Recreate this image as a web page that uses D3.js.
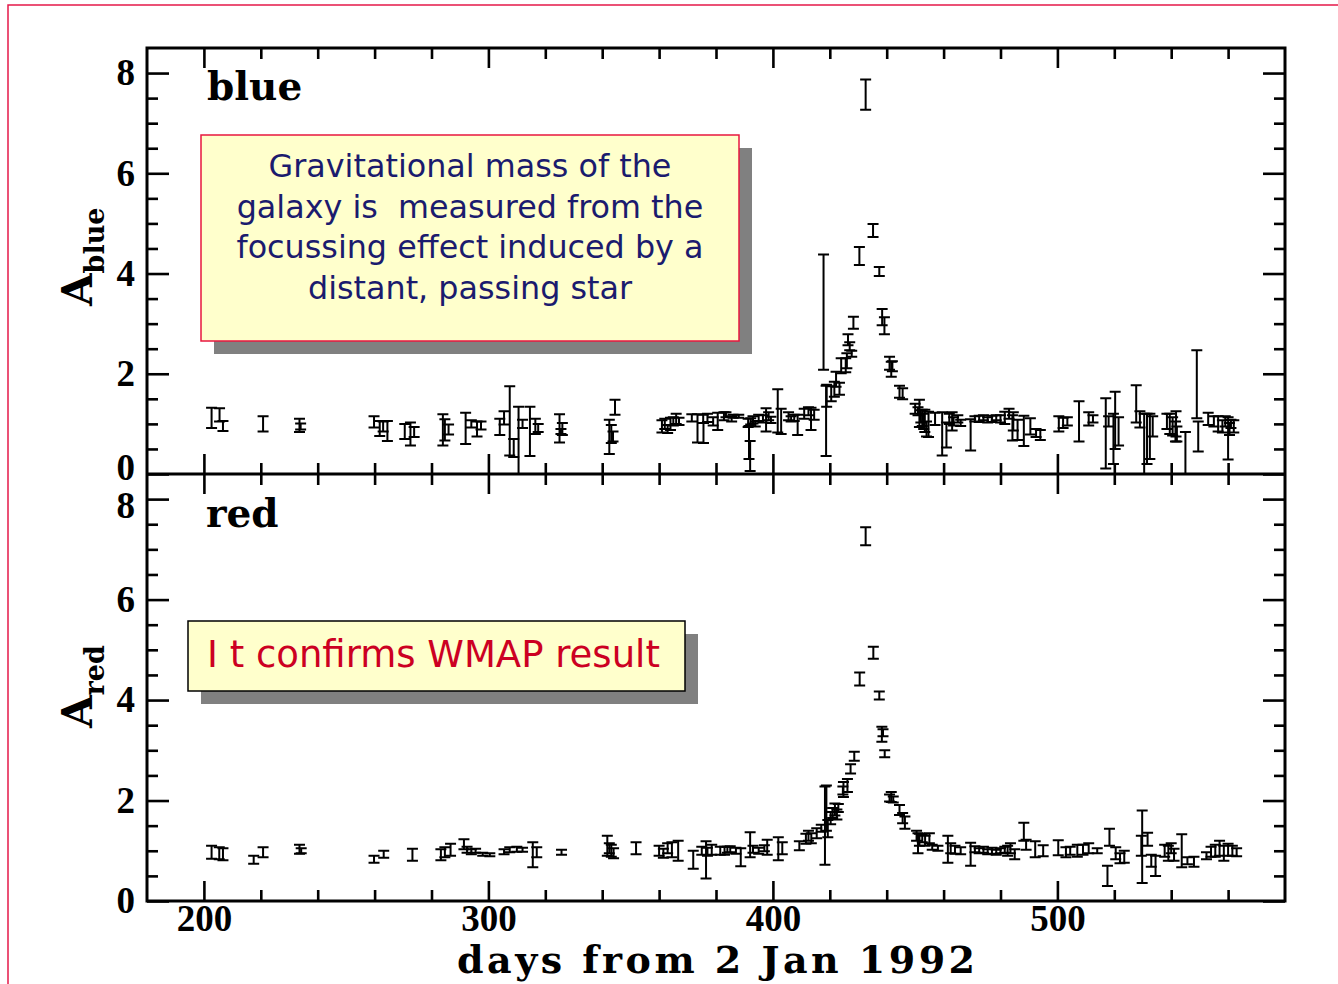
<!DOCTYPE html>
<html>
<head>
<meta charset="utf-8">
<script src="https://cdn.jsdelivr.net/npm/d3@7"></script>
<style>
  html, body { margin: 0; padding: 0; background: #fff; }
  svg { display: block; }
</style>
</head>
<body>
<svg id="chart" width="1338" height="984"></svg>
<script>
// Light curve of the event: amplification vs. days from 2 Jan 1992

// Blue band measurements
const blueDays = [202.7,205.5,206.7,220.8,233.6,234,259.8,261.8,263,264.5,270.6,272.6,273.9,284,284.7,286,292,294,296,297.4,
  304,305.5,307.5,308.9,310.6,312,314.6,316.5,317.5,325,325.5,326,342.5,343.2,343.8,344.5,361,362,363,364,365,366,367,
  371.5,373.5,375.5,375.6,377,379,380.6,382.8,383.5,385.5,386,388,391.3,391.6,392,392.2,393,393.8,395,396.5,397.6,398.5,399.3,
  401.7,402.9,405.5,406.4,407.5,408.7,411,412.5,413.4,414.5,417.8,418.7,418.9,420.5,421.6,422.2,423.4,424,425.6,426,426.4,427,427.7,428.3,
  430.4,432.6,435.2,437.4,438.4,439.2,441,441.6,442,444.5,445.6,450,451,451.5,452,452.5,453,453.4,454,454.7,457,459.5,
  461,462,463,463.5,465,466,469.5,471,472.5,474,475.5,477,478.5,480,481.5,483,484.2,484.5,486,488.2,490.5,492.5,494,
  500.5,502,503.5,507.6,511,512.5,517,518,519.7,520.3,521.5,527.7,529,530.5,531.5,532.5,533.5,538.5,539.5,540.5,541.5,541.7,542,
  545,549,549.5,553,555,556.5,558,559,560,560.5,561,562];
const blueAmp = [1.12,1.18,0.96,1.0,0.97,0.95,1.04,0.91,0.95,0.86,0.85,0.8,0.84,0.88,0.88,0.89,0.91,1.0,0.9,0.97,
  0.94,1.12,1.06,0.52,0.67,1.0,0.85,0.95,0.92,0.91,0.85,0.9,0.74,0.8,0.75,1.33,0.95,1.0,0.9,1.0,1.05,1.1,1.05,
  1.12,0.91,1.1,0.82,1.12,1.05,1.05,1.15,1.18,1.1,1.15,1.15,1.02,0.63,0.36,1.05,1.08,1.0,1.12,1.1,1.08,1.15,1.08,
  1.26,1.05,1.15,1.1,1.12,0.98,1.2,1.25,1.1,1.18,3.23,1.06,1.56,1.6,1.69,1.89,1.7,2.16,2.17,2.26,2.68,2.55,2.4,3.02,
  4.35,7.57,4.86,4.04,3.13,2.96,2.21,2.09,2.15,1.64,1.6,1.3,1.25,1.21,1.15,1.12,1.05,1.06,0.9,0.99,1.1,0.8,
  0.78,1.1,1.05,1.05,1.1,1.02,0.78,1.1,1.1,1.12,1.08,1.1,1.12,1.1,1.12,1.2,0.92,1.05,0.88,0.86,0.95,0.82,0.78,
  1.0,1.02,1.05,1.05,1.1,1.1,0.81,1.05,0.7,1.07,0.85,1.4,1.09,0.6,0.7,0.75,0.95,1.05,1.0,0.95,0.85,1.0,0.8,
  0.42,1.79,0.75,1.1,1.05,1.0,0.95,1.05,0.71,0.9,1.0,0.95];
const blueErr = [0.2,0.13,0.1,0.15,0.13,0.06,0.11,0.15,0.1,0.2,0.15,0.23,0.1,0.31,0.21,0.1,0.31,0.07,0.15,0.08,
  0.16,0.13,0.69,0.18,0.67,0.08,0.49,0.15,0.08,0.28,0.05,0.12,0.34,0.18,0.1,0.15,0.12,0.1,0.08,0.12,0.08,0.1,0.07,
  0.07,0.28,0.08,0.2,0.08,0.08,0.17,0.08,0.05,0.05,0.03,0.03,0.08,0.33,0.3,0.06,0.07,0.05,0.06,0.07,0.23,0.08,0.06,
  0.43,0.25,0.08,0.05,0.06,0.2,0.1,0.08,0.22,0.1,1.15,0.7,0.22,0.15,0.15,0.15,0.12,0.15,0.14,0.15,0.11,0.08,0.06,0.12,
  0.18,0.3,0.13,0.09,0.16,0.17,0.13,0.15,0.1,0.12,0.11,0.1,0.08,0.27,0.12,0.16,0.15,0.22,0.15,0.25,0.12,0.43,
  0.25,0.1,0.18,0.08,0.07,0.06,0.31,0.05,0.06,0.05,0.05,0.06,0.05,0.07,0.12,0.1,0.25,0.18,0.2,0.3,0.16,0.08,0.1,
  0.15,0.1,0.08,0.4,0.13,0.07,0.7,0.1,0.5,0.57,0.28,0.37,0.16,0.6,0.5,0.45,0.2,0.15,0.2,0.18,0.2,0.25,0.15,
  0.42,0.68,0.3,0.12,0.1,0.15,0.12,0.1,0.42,0.12,0.08,0.12];

// Red band measurements
const redDays = [202.7,205.4,206.7,217.5,220.8,233.6,234.2,259.8,263.2,273.3,283.3,284.7,286.7,291.4,292.5,294,295.5,298,300.5,
  305.5,307.5,310,312,315.6,317,325.7,341.8,342.5,343.2,344,351.9,360,361.5,363,364.5,366.7,372,375,376.5,377,378.5,
  381.5,383,384,385,387,388.7,392,393,395,397,398,401.9,403.3,409.3,411.6,412.5,413.5,415.4,417,418.3,418.8,419.3,
  420.3,421,421.8,422.5,423,424.6,424.8,426.2,427.3,428.6,430.5,432.6,435.3,437.4,438.3,438.7,439.3,441,441.6,442.3,
  444.5,445.6,446.4,450.5,451,451.5,452.5,453.5,455,456,458,461.5,462.5,464,466,469.5,471,472.5,474,475.5,477,478.5,
  480,481.5,482.5,483.5,485,488.2,489,492.2,495,500.3,503,504.5,507,509,511,514,517.6,518.3,520.5,522,523.5,
  529.5,529.8,531.7,533,534.5,537.7,539,540,541,543.7,545.7,548,552.4,554,555.5,557,558.5,560,561.5,563];
const redAmp = [0.97,0.95,0.93,0.82,0.97,1.03,1.0,0.83,0.93,0.92,0.92,0.97,1.02,1.13,1.02,0.98,1.0,0.93,0.92,
  0.98,1.02,1.03,1.02,0.92,0.97,0.97,1.1,1.05,1.0,0.95,1.05,1.0,0.95,1.05,1.02,1.0,0.82,1.0,0.82,0.98,1.02,
  1.0,1.0,1.02,1.03,1.0,0.87,1.12,1.03,1.0,1.05,1.07,1.04,1.05,1.1,1.24,1.3,1.25,1.35,1.45,1.5,1.85,1.44,
  1.65,1.75,1.82,1.72,1.85,2.2,2.22,2.3,2.63,2.88,4.42,7.26,4.94,4.09,3.32,3.35,2.93,2.05,2.07,2.02,
  1.81,1.65,1.56,1.3,1.15,1.22,1.25,1.2,1.25,1.07,1.05,1.03,1.05,1.02,1.0,0.93,1.03,1.0,1.02,0.98,1.0,0.97,
  1.0,1.02,1.0,1.05,0.93,1.38,1.12,1.03,1.0,1.06,0.97,1.0,1.0,1.02,1.05,1.0,0.5,1.27,0.95,0.85,0.88,
  1.1,1.08,1.23,0.8,0.7,1.0,0.95,1.05,0.92,1.0,0.8,0.78,0.9,0.98,1.0,1.05,0.95,1.02,1.0,0.97];
const redErr = [0.13,0.12,0.12,0.08,0.1,0.09,0.05,0.07,0.07,0.12,0.11,0.1,0.12,0.1,0.06,0.05,0.04,0.03,0.03,
  0.05,0.05,0.05,0.04,0.25,0.1,0.05,0.2,0.1,0.12,0.1,0.12,0.1,0.09,0.1,0.15,0.2,0.18,0.08,0.37,0.08,0.1,
  0.08,0.08,0.06,0.06,0.06,0.18,0.25,0.07,0.06,0.06,0.15,0.23,0.12,0.09,0.1,0.1,0.1,0.1,0.07,0.78,0.45,0.17,
  0.12,0.1,0.12,0.1,0.08,0.08,0.15,0.13,0.09,0.09,0.13,0.18,0.12,0.08,0.15,0.07,0.07,0.07,0.1,0.06,
  0.1,0.1,0.12,0.1,0.2,0.12,0.08,0.1,0.1,0.05,0.05,0.27,0.1,0.08,0.07,0.23,0.06,0.05,0.06,0.05,0.06,0.05,
  0.05,0.06,0.1,0.1,0.1,0.18,0.1,0.16,0.11,0.15,0.1,0.08,0.12,0.1,0.1,0.05,0.2,0.17,0.12,0.1,0.12,
  0.2,0.72,0.13,0.12,0.2,0.12,0.15,0.1,0.12,0.33,0.07,0.1,0.07,0.1,0.12,0.15,0.15,0.12,0.1,0.08];

// Axis ticks and labels
const xMajorTicks = [200, 300, 400, 500];
const xMinorTicks = [220, 240, 260, 280, 320, 340, 360, 380, 420, 440, 460, 480, 520, 540, 560];
const yMajorTicks = [0, 2, 4, 6, 8];
const yMinorTicks = [0.5, 1, 1.5, 2.5, 3, 3.5, 4.5, 5, 5.5, 6.5, 7, 7.5];
const xTitle = "days from 2 Jan 1992";
const noteLines = ["Gravitational mass of the", "galaxy is  measured from the",
                   "focussing effect induced by a", "distant, passing star"];
const noteShort = "I t confirms WMAP result";

const W = 1338, H = 984;
const plotL = 147, plotR = 1285, plotT = 48, plotM = 474, plotB = 901;
const serif = "'DejaVu Serif', serif";
const digits = "'Liberation Serif', serif";

const svg = d3.select("#chart");

const x = d3.scaleLinear().domain([180, 580]).range([plotL, plotR]);
const yBlue = d3.scaleLinear().domain([0, 8.5]).range([plotM, plotT]);
const yRed = d3.scaleLinear().domain([0, 8.5]).range([plotB, plotM]);

// outer slide frame
svg.append("path")
  .attr("d", `M${W + 5},5H8V${H + 5}`)
  .attr("fill", "none").attr("stroke", "#e5194a").attr("stroke-width", 1.5);

// tick helper: draws an axis with no domain path
function ticks(axis, values, size, translate, label) {
  const g = svg.append("g").attr("transform", translate)
    .call(axis.tickValues(values).tickSize(size).tickPadding(label ? label.pad : 3)
      .tickFormat(label ? d3.format("d") : ""));
  g.select(".domain").remove();
  g.selectAll(".tick line").attr("stroke", "#000").attr("stroke-width", 2.6);
  if (label) {
    g.selectAll(".tick text")
      .attr("fill", "#000")
      .style("font-family", digits).style("font-weight", "bold").style("font-size", label.size + "px");
  }
  return g;
}

const xMaj = 20, xMin = 11, yMaj = 22, yMin = 11;

// x ticks: top edge, the shared middle line (both panels) and bottom edge
ticks(d3.axisTop(x), xMajorTicks, -xMaj, `translate(0,${plotT})`);
ticks(d3.axisTop(x), xMinorTicks, -xMin, `translate(0,${plotT})`);
ticks(d3.axisBottom(x), xMajorTicks, -xMaj, `translate(0,${plotM})`);
ticks(d3.axisBottom(x), xMinorTicks, -xMin, `translate(0,${plotM})`);
ticks(d3.axisTop(x), xMajorTicks, -xMaj, `translate(0,${plotM})`);
ticks(d3.axisTop(x), xMinorTicks, -xMin, `translate(0,${plotM})`);
ticks(d3.axisBottom(x), xMajorTicks, -xMaj, `translate(0,${plotB})`, { pad: 4, size: 37 });
ticks(d3.axisBottom(x), xMinorTicks, -xMin, `translate(0,${plotB})`);

// y ticks for both panels, left and right
[yBlue, yRed].forEach((y, i) => {
  const lab = ticks(d3.axisLeft(y), yMajorTicks, -yMaj, `translate(${plotL},0)`, { pad: 12, size: 37 });
  // keep the shared-edge labels ("0" above, "8" below) apart
  lab.selectAll(".tick text").filter(v => (i === 0 && v === 0) || (i === 1 && v === 8))
    .attr("dy", i === 0 ? "0.15em" : "0.5em");
  ticks(d3.axisLeft(y), yMinorTicks, -yMin, `translate(${plotL},0)`);
  ticks(d3.axisRight(y), yMajorTicks, -yMaj, `translate(${plotR},0)`);
  ticks(d3.axisRight(y), yMinorTicks, -yMin, `translate(${plotR},0)`);
});

// plot frames
svg.append("rect")
  .attr("x", plotL).attr("y", plotT).attr("width", plotR - plotL).attr("height", plotB - plotT)
  .attr("fill", "none").attr("stroke", "#000").attr("stroke-width", 3);
svg.append("line")
  .attr("x1", plotL).attr("x2", plotR).attr("y1", plotM).attr("y2", plotM)
  .attr("stroke", "#000").attr("stroke-width", 3);

// error bars
function errorBars(days, amp, err, y) {
  const cap = 5.5;
  svg.append("g")
    .attr("fill", "none").attr("stroke", "#000").attr("stroke-width", 2)
    .selectAll("path")
    .data(d3.zip(days, amp, err))
    .join("path")
    .attr("d", ([d, a, e]) => {
      const cx = x(d), y0 = y(a - e), y1 = y(a + e);
      return `M${cx - cap},${y1}H${cx + cap}M${cx},${y1}V${y0}M${cx - cap},${y0}H${cx + cap}`;
    });
}
errorBars(blueDays, blueAmp, blueErr, yBlue);
errorBars(redDays, redAmp, redErr, yRed);

// panel names
svg.append("text").attr("x", 207).attr("y", 100).text("blue")
  .style("font-family", serif).style("font-weight", "bold").style("font-size", "39px");
svg.append("text").attr("x", 206).attr("y", 527).text("red")
  .style("font-family", serif).style("font-weight", "bold").style("font-size", "39px");

// y titles
function yTitle(sub, cx, cy) {
  const t = svg.append("text")
    .attr("transform", `translate(${cx},${cy}) rotate(-90)`)
    .style("font-family", serif).style("font-weight", "bold");
  t.append("tspan").text("A").style("font-size", "42px");
  t.append("tspan").text(sub).attr("dy", 12).style("font-size", "27px");
}
yTitle("blue", 92, 306);
yTitle("red", 92, 728);

// x title
svg.append("text")
  .attr("x", 457).attr("y", 973).text(xTitle)
  .attr("textLength", 518).attr("lengthAdjust", "spacing")
  .style("font-family", serif).style("font-weight", "bold").style("font-size", "38px");

// annotation: measurement note
svg.append("rect").attr("x", 214).attr("y", 148).attr("width", 538).attr("height", 206).attr("fill", "#808080");
svg.append("rect").attr("x", 201).attr("y", 135).attr("width", 538).attr("height", 206)
  .attr("fill", "#ffffcc").attr("stroke", "#e8173f").attr("stroke-width", 1.5);
svg.append("g")
  .selectAll("text").data(noteLines).join("text")
  .attr("x", 470).attr("y", (d, i) => 177 + i * 40.7)
  .attr("text-anchor", "middle")
  .style("white-space", "pre")
  .style("font-family", "'DejaVu Sans', sans-serif").style("font-size", "31.8px")
  .attr("fill", "#1b1b6e")
  .text(d => d);

// annotation: conclusion
svg.append("rect").attr("x", 201).attr("y", 634).attr("width", 497).attr("height", 70).attr("fill", "#808080");
svg.append("rect").attr("x", 188).attr("y", 621).attr("width", 497).attr("height", 70)
  .attr("fill", "#ffffcc").attr("stroke", "#000").attr("stroke-width", 1.5);
svg.append("text").attr("x", 207).attr("y", 667)
  .style("white-space", "pre")
  .style("font-family", "'DejaVu Sans', sans-serif").style("font-size", "37px")
  .attr("fill", "#cc0022")
  .text(noteShort);
</script>
</body>
</html>
